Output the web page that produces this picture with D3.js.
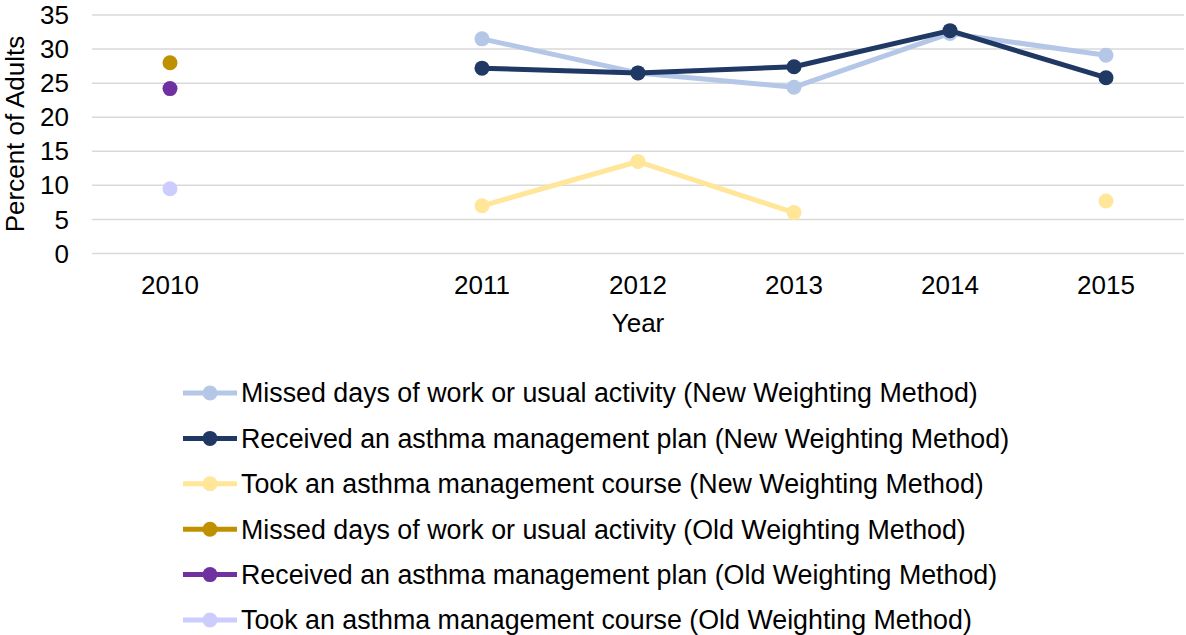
<!DOCTYPE html>
<meta charset="utf-8">
<style>
body { margin: 0; background: #fff; }
text { font-family: Arial, "Liberation Sans", sans-serif; fill: #000; }
.grid line { stroke: #d9d9d9; stroke-width: 1.5; }
</style>
<body>
<script src="https://cdn.jsdelivr.net/npm/d3@7"></script>
<script>

// ---- data ----
var categories = ['2010', 'gap', '2011', '2012', '2013', '2014', '2015']
var yTicks = [0, 5, 10, 15, 20, 25, 30, 35]

var missedNew   = [null, null, 31.5, 26.5, 24.4, 32.3, 29.1]
var receivedNew = [null, null, 27.2, 26.5, 27.4, 32.7, 25.8]
var courseNew   = [null, null, 7.0, 13.5, 6.0, null, 7.7]
var missedOld   = [28.0, null, null, null, null, null, null]
var receivedOld = [24.2, null, null, null, null, null, null]
var courseOld   = [9.5, null, null, null, null, null, null]

var seriesNames = [
    'Missed days of work or usual activity (New Weighting Method)',
    'Received an asthma management plan (New Weighting Method)',
    'Took an asthma management course (New Weighting Method)',
    'Missed days of work or usual activity (Old Weighting Method)',
    'Received an asthma management plan (Old Weighting Method)',
    'Took an asthma management course (Old Weighting Method)'
]
var seriesColors = ['#b4c7e7', '#203864', '#ffe699', '#bf9000', '#7030a0', '#ccccff']

var series = [missedNew, receivedNew, courseNew, missedOld, receivedOld, courseOld]
    .map(function (vals, i) { return { name: seriesNames[i], color: seriesColors[i], values: vals } })

// ---- layout ----
var width = 1186
var height = 635
var plot = { left: 92, right: 1184, top: 15, bottom: 253.5 }

var svg = d3.select('body').append('svg')
    .attr('width', width)
    .attr('height', height)

var x = d3.scaleBand()
    .domain(categories)
    .range([plot.left, plot.right])

var y = d3.scaleLinear()
    .domain([0, 35])
    .range([plot.bottom, plot.top])

// gridlines
svg.append('g')
    .attr('class', 'grid')
    .selectAll('line')
    .data(yTicks)
    .enter().append('line')
    .attr('x1', plot.left)
    .attr('x2', plot.right)
    .attr('y1', function (d) { return y(d) })
    .attr('y2', function (d) { return y(d) })

// y tick labels
svg.append('g')
    .selectAll('text')
    .data(yTicks)
    .enter().append('text')
    .attr('x', 69)
    .attr('y', function (d) { return y(d) })
    .attr('dy', '0.35em')
    .attr('text-anchor', 'end')
    .style('font-size', '26px')
    .text(function (d) { return d })

// x tick labels
svg.append('g')
    .selectAll('text')
    .data(categories.filter(function (c) { return c !== 'gap' }))
    .enter().append('text')
    .attr('x', function (d) { return x(d) + x.bandwidth() / 2 })
    .attr('y', 294)
    .attr('text-anchor', 'middle')
    .style('font-size', '26px')
    .text(function (d) { return d })

// axis titles
svg.append('text')
    .attr('x', (plot.left + plot.right) / 2)
    .attr('y', 332)
    .attr('text-anchor', 'middle')
    .style('font-size', '26px')
    .text('Year')

svg.append('text')
    .attr('transform', 'translate(24,' + 134 + ') rotate(-90)')
    .attr('text-anchor', 'middle')
    .style('font-size', '26px')
    .text('Percent of Adults')

// lines and markers
var line = d3.line()
    .defined(function (d) { return d.v != null })
    .x(function (d) { return x(d.c) + x.bandwidth() / 2 })
    .y(function (d) { return y(d.v) })

var groups = svg.append('g')
    .selectAll('g')
    .data(series)
    .enter().append('g')

groups.append('path')
    .attr('fill', 'none')
    .attr('stroke', function (d) { return d.color })
    .attr('stroke-width', 5)
    .attr('stroke-linejoin', 'round')
    .attr('d', function (d) {
        return line(d.values.map(function (v, i) { return { c: categories[i], v: v } }))
    })

groups.selectAll('circle')
    .data(function (d) {
        return d.values.map(function (v, i) { return { c: categories[i], v: v, color: d.color } })
            .filter(function (p) { return p.v != null })
    })
    .enter().append('circle')
    .attr('cx', function (d) { return x(d.c) + x.bandwidth() / 2 })
    .attr('cy', function (d) { return y(d.v) })
    .attr('r', 7.5)
    .attr('fill', function (d) { return d.color })

// legend
var legend = svg.append('g')
    .selectAll('g')
    .data(series)
    .enter().append('g')
    .attr('transform', function (d, i) { return 'translate(183,' + (393 + i * 45.4) + ')' })

legend.append('line')
    .attr('x1', 0).attr('x2', 54)
    .attr('stroke', function (d) { return d.color })
    .attr('stroke-width', 5)

legend.append('circle')
    .attr('cx', 27)
    .attr('r', 7.5)
    .attr('fill', function (d) { return d.color })

legend.append('text')
    .attr('x', 58)
    .attr('dy', '0.35em')
    .style('font-size', '26.8px')
    .text(function (d) { return d.name })

</script>
</body>
